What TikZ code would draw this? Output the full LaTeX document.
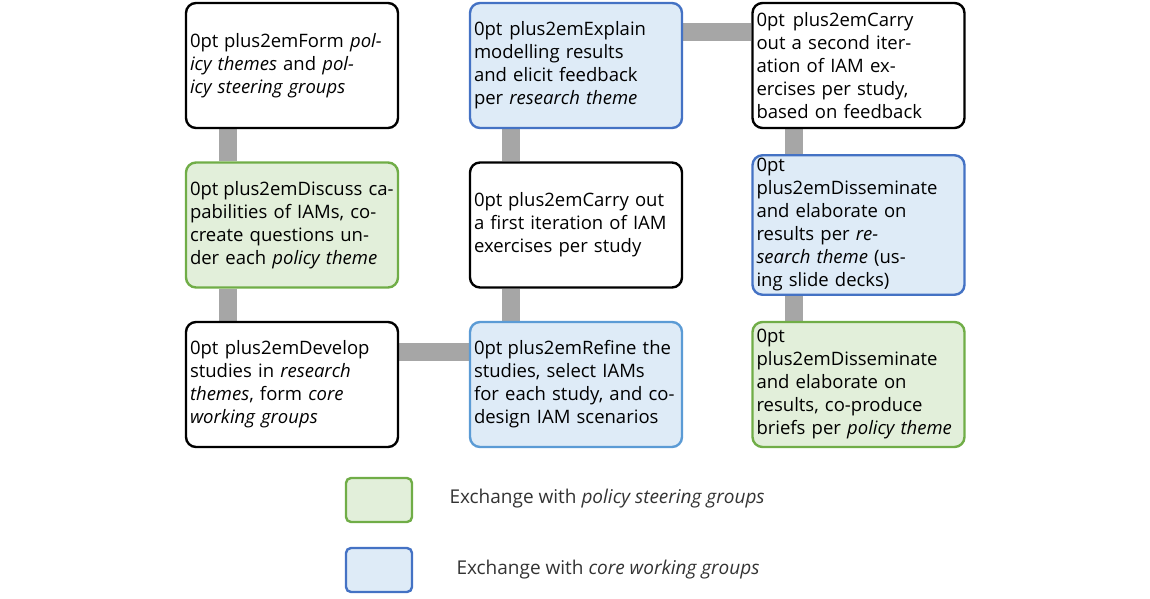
\documentclass[tikz,border=0pt]{standalone}
\usepackage{fontspec}
\setmainfont{Open Sans}
\usetikzlibrary{positioning,backgrounds}
\definecolor{greenfill}{HTML}{E2EFDA}
\definecolor{greenline}{HTML}{70AD47}
\definecolor{bluefill}{HTML}{DEEBF7}
\definecolor{blueline}{HTML}{4472C4}
\definecolor{lightblueline}{HTML}{5B9BD5}
\definecolor{linkgray}{HTML}{A6A6A6}
\tikzset{
  stage/.style={draw=black, line width=2.4pt, rounded corners=10pt, fill=white,
    minimum width=212pt, minimum height=125pt, text width=204pt, align=center,
    font=\fontsize{18.5}{23}\selectfont\hyphenpenalty=10000\addfontfeatures{Color=333333}},
  policy/.style={stage, draw=greenline, fill=greenfill},
  core/.style={stage, draw=blueline, fill=bluefill},
  corelight/.style={stage, draw=lightblueline, fill=bluefill},
  link/.style={linkgray, line width=18pt},
  key/.style={line width=2.4pt, rounded corners=5pt, minimum width=66pt, minimum height=44pt},
  keytext/.style={anchor=west, font=\fontsize{19}{22}\selectfont\addfontfeatures{Color=333333}}
}
\begin{document}
\begin{tikzpicture}[x=1pt,y=-1pt]
    \useasboundingbox (0,0) rectangle (1150,599);

    \node[stage] (form) at (292,65.5) {Form \emph{policy themes} and \emph{policy steering groups}};
    \node[policy] (discuss) at (292,225) {Discuss capabilities of IAMs, co-create questions under each \emph{policy theme}};
    \node[stage] (develop) at (292,384.5) {Develop studies in \emph{research themes}, form \emph{core working groups}};
    \node[corelight] (refine) at (576,384.5) {Refine the studies, select IAMs for each study, and co-design IAM scenarios};
    \node[stage] (first) at (576,225) {Carry out a first iteration of IAM exercises per study};
    \node[core] (explain) at (576,65.5) {Explain modelling results and elicit feedback per \emph{research theme}};
    \node[stage] (second) at (858.5,65.5) {Carry out a second iteration of IAM exercises per study, based on feedback};
    \node[core] (spread) at (858.5,225) {Disseminate and elaborate on results per \emph{research theme} (using slide decks)};
    \node[policy] (briefs) at (858.5,384.5) {Disseminate and elaborate on results, co-produce briefs per \emph{policy theme}};

    % links between the steps
    \begin{pgfonlayer}{background}
    \draw[link] ([xshift=-64pt]form.south) -- ([xshift=-64pt]discuss.north);
    \draw[link] ([xshift=-64pt]discuss.south) -- ([xshift=-64pt]develop.north);
    \draw[link] ([yshift=33pt]develop.east) -- ([yshift=33pt]refine.west);
    \draw[link] ([xshift=-65pt]refine.north) -- ([xshift=-65pt]first.south);
    \draw[link] ([xshift=-65pt]first.north) -- ([xshift=-65pt]explain.south);
    \draw[link] ([yshift=33.5pt]explain.east) -- ([yshift=33.5pt]second.west);
    \draw[link] ([xshift=-64.5pt]second.south) -- ([xshift=-64.5pt]spread.north);
    \draw[link] ([xshift=-64.5pt]spread.south) -- ([xshift=-64.5pt]briefs.north);
    \end{pgfonlayer}

    % legend
    \node[key, draw=greenline, fill=greenfill] (keypolicy) at (379,500) {};
    \node[keytext] (textpolicy) at (446,499) {Exchange with \emph{policy steering groups}};
    \node[key, draw=blueline, fill=bluefill] (keycore) at (379,570) {};
    \node[keytext] (textcore) at (453,570) {Exchange with \emph{core working groups}};
\end{tikzpicture}
\end{document}
